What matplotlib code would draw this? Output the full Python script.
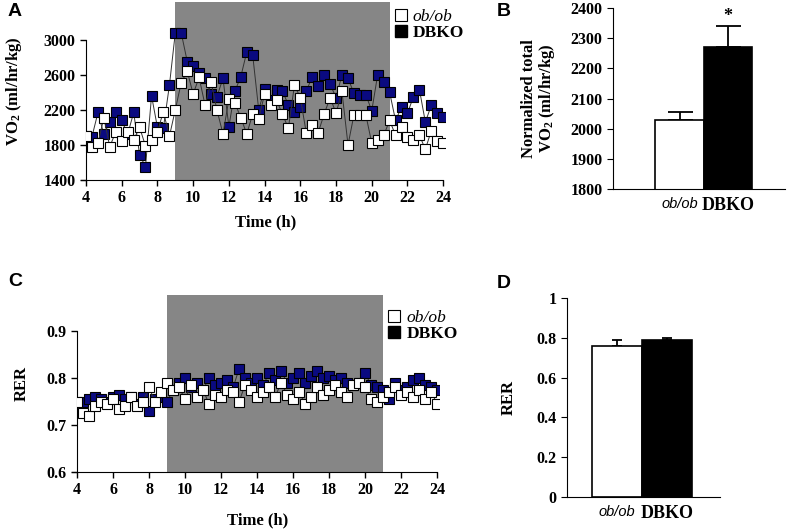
import matplotlib
matplotlib.use("Agg")
import matplotlib.pyplot as plt
from matplotlib.lines import Line2D

plt.rcParams['font.family'] = ['Liberation Serif', 'DejaVu Serif']
plt.rcParams['font.weight'] = 'bold'
plt.rcParams['mathtext.fontset'] = 'custom'
plt.rcParams['mathtext.rm'] = 'Liberation Serif:bold'
plt.rcParams['mathtext.it'] = 'Liberation Serif:bold'
plt.rcParams['mathtext.bf'] = 'Liberation Serif:bold'

# --- data ---
hours = [4.00, 4.33, 4.67, 5.00, 5.33, 5.67, 6.00, 6.33, 6.67, 7.00, 7.33, 7.67,
         8.00, 8.33, 8.67, 9.00, 9.33, 9.67, 10.00, 10.33, 10.67, 11.00, 11.33, 11.67,
         12.00, 12.33, 12.67, 13.00, 13.33, 13.67, 14.00, 14.33, 14.67, 15.00, 15.33, 15.67,
         16.00, 16.33, 16.67, 17.00, 17.33, 17.67, 18.00, 18.33, 18.67, 19.00, 19.33, 19.67,
         20.00, 20.33, 20.67, 21.00, 21.33, 21.67, 22.00, 22.33, 22.67, 23.00, 23.33, 23.67,
         24.00]

vo2_dbko = [1900, 1890, 2170, 1920, 2060, 2170, 2080, 1920, 2170, 1690, 1550, 2360,
            2000, 1990, 2480, 3080, 3080, 2750, 2700, 2620, 2560, 2380, 2350, 2560,
            2010, 2410, 2580, 2860, 2830, 2200, 2440, 2310, 2430, 2410, 2260, 2170,
            2230, 2410, 2580, 2470, 2600, 2490, 2340, 2600, 2560, 2390, 2370, 2370,
            2190, 2600, 2520, 2400, 2080, 2230, 2160, 2350, 2430, 2060, 2250, 2160,
            2120]
vo2_obob = [1900, 1780, 1820, 2110, 1780, 1950, 1840, 1950, 1860, 2000, 1790, 1860,
            1950, 2180, 1900, 2200, 2510, 2640, 2380, 2570, 2250, 2520, 2200, 1925,
            2320, 2280, 2110, 1925, 2150, 2100, 2380, 2260, 2310, 2150, 1990, 2480,
            2340, 1940, 2030, 1940, 2150, 2340, 2160, 2410, 1800, 2140, 2140, 2140,
            1820, 1860, 1910, 2080, 1910, 2000, 1890, 1860, 1910, 1750, 1960, 1840,
            1820]

rer_dbko = [0.745, 0.750, 0.755, 0.760, 0.755, 0.750, 0.760, 0.765, 0.755, 0.760, 0.745, 0.760,
            0.730, 0.755, 0.760, 0.750, 0.775, 0.790, 0.800, 0.780, 0.790, 0.775, 0.800, 0.785,
            0.790, 0.795, 0.780, 0.820, 0.800, 0.790, 0.800, 0.785, 0.810, 0.795, 0.815, 0.790,
            0.800, 0.810, 0.790, 0.805, 0.815, 0.800, 0.805, 0.795, 0.800, 0.790, 0.785, 0.790,
            0.810, 0.785, 0.780, 0.775, 0.755, 0.790, 0.775, 0.780, 0.795, 0.800, 0.785, 0.780,
            0.775]
rer_obob = [0.750, 0.725, 0.720, 0.740, 0.750, 0.745, 0.755, 0.735, 0.740, 0.760, 0.740, 0.750,
            0.780, 0.750, 0.770, 0.790, 0.775, 0.780, 0.755, 0.785, 0.760, 0.775, 0.745, 0.765,
            0.760, 0.775, 0.770, 0.750, 0.785, 0.775, 0.760, 0.770, 0.780, 0.760, 0.790, 0.765,
            0.755, 0.770, 0.745, 0.760, 0.780, 0.765, 0.775, 0.785, 0.770, 0.760, 0.785, 0.790,
            0.780, 0.755, 0.750, 0.760, 0.770, 0.780, 0.765, 0.770, 0.760, 0.775, 0.755, 0.770,
            0.745]

groups = ['ob/ob', 'DBKO']
vo2_total = [2030, 2270]
vo2_total_err = [25, 70]
rer_total = [0.76, 0.79]
rer_total_err = [0.03, 0.008]

dark_start, dark_end = 9, 21
NAVY = '#0a0a80'
GRAY = '#868686'
TICK_FS = 11.5
LABEL_FS = 12

W, H = 796, 529
fig = plt.figure(figsize=(W / 100, H / 100), dpi=100)


def px_axes(left, right, top, bottom):
    return fig.add_axes([left / W, 1 - bottom / H, (right - left) / W, (bottom - top) / H])


def time_panel(ax, dbko, obob, ylim, ybounds, yticks, ylabel, tick_fmt, leg_anchor,
               ypad, xpad):
    ax.axvspan(dark_start, dark_end, color=GRAY, zorder=0, lw=0)
    ax.plot(hours, dbko, '-s', color='#333333', lw=0.7, ms=6.8, mfc=NAVY, mec='black',
            mew=0.8, zorder=2)
    ax.plot(hours, obob, '-s', color='#333333', lw=0.7, ms=6.8, mfc='white', mec='black',
            mew=0.8, zorder=3)
    ax.set_xlim(4, 24.1)
    ax.set_ylim(*ylim)
    ax.spines['left'].set_bounds(*ybounds)
    ax.spines['bottom'].set_bounds(3.7, 24)
    for s in ['top', 'right']:
        ax.spines[s].set_visible(False)
    ax.set_xticks(range(4, 25, 2))
    ax.set_yticks(yticks)
    ax.set_yticklabels([tick_fmt.format(v) for v in yticks])
    ax.tick_params(direction='out', length=4, width=1, labelsize=TICK_FS)
    for lab in ax.get_xticklabels() + ax.get_yticklabels():
        lab.set_fontweight('bold')
    ax.set_xlabel('Time (h)', fontsize=LABEL_FS, fontweight='bold', labelpad=xpad)
    ax.set_ylabel(ylabel, fontsize=LABEL_FS, fontweight='bold', labelpad=ypad)
    handles = [Line2D([], [], ls='none', marker='s', ms=8, mfc='white', mec='black', mew=0.8),
               Line2D([], [], ls='none', marker='s', ms=8, mfc='black', mec='black')]
    leg = ax.legend(handles, groups, loc='upper left', frameon=False, fontsize=12.5,
                    handlelength=0.8, handletextpad=0.3, labelspacing=0.0,
                    borderaxespad=0, borderpad=0, bbox_to_anchor=leg_anchor)
    leg.get_texts()[0].set_fontstyle('italic')
    leg.get_texts()[0].set_fontweight('normal')
    leg.get_texts()[1].set_fontweight('bold')


def bar_panel(ax, vals, errs, ylim, yticks, xlim, capsize, tick_fmt):
    ax.bar([0, 1], vals, width=1.0, color=['white', 'black'], edgecolor='black', lw=1.2,
           zorder=2)
    ax.errorbar([0, 1], vals, yerr=[[0, 0], errs], fmt='none', ecolor='black', elinewidth=1.3,
                capsize=capsize, capthick=1.3, zorder=1)
    ax.set_ylim(*ylim)
    ax.set_xlim(*xlim)
    for s in ['top', 'right']:
        ax.spines[s].set_visible(False)
    ax.set_yticks(yticks)
    ax.set_yticklabels([tick_fmt.format(v) for v in yticks])
    ax.tick_params(axis='y', direction='out', length=4, labelsize=TICK_FS)
    ax.tick_params(axis='x', length=0, pad=6)
    ax.set_xticks([0, 1])
    ax.set_xticklabels(groups)
    labs = ax.get_xticklabels()
    labs[0].set_fontfamily(['Liberation Sans', 'DejaVu Sans'])
    labs[0].set_fontstyle('italic')
    labs[0].set_fontweight('normal')
    labs[0].set_fontsize(10.5)
    labs[1].set_fontweight('bold')
    labs[1].set_fontsize(13)
    for lab in ax.get_yticklabels():
        lab.set_fontweight('bold')


# A
axA = px_axes(86, 445, 2, 180)
time_panel(axA, vo2_dbko, vo2_obob, (1400, 3430), (1400, 3000), [1400, 1800, 2200, 2600, 3000],
           r'VO$_2$ (ml/hr/kg)', '{:d}', (0.857, 0.96), 14, 6)

# C
axC = px_axes(77, 439, 295, 472)
time_panel(axC, rer_dbko, rer_obob, (0.6, 0.977), (0.6, 0.9), [0.6, 0.7, 0.8, 0.9],
           'RER', '{:.1f}', (0.857, 0.915), 12, 10)

# B
axB = px_axes(613, 785, 8, 189)
bar_panel(axB, vo2_total, vo2_total_err, (1800, 2400), list(range(1800, 2401, 100)),
          (-1.37, 2.17), 9, '{:d}')
axB.set_ylabel('Normalized total\n' + r'VO$_2$ (ml/hr/kg)', fontsize=LABEL_FS,
               fontweight='bold', labelpad=10, linespacing=1.0)
axB.text(1, vo2_total[1] + vo2_total_err[1] + 5, '*', ha='center', va='bottom', fontsize=13,
         fontweight='bold')

# D
axD = px_axes(567, 720, 298, 497)
bar_panel(axD, rer_total, rer_total_err, (0, 1), [0, 0.2, 0.4, 0.6, 0.8, 1], (-1.0, 2.06), 3.5,
          '{:g}')
axD.set_ylabel('RER', fontsize=LABEL_FS, fontweight='bold', labelpad=14)

# panel letters
for letter, x, y in [('A', 8, 12), ('B', 497, 12), ('C', 8, 282), ('D', 497, 283)]:
    fig.text(x / W, 1 - y / H, letter, fontsize=14, fontweight='bold',
             family=['Liberation Sans', 'DejaVu Sans'], ha='left', va='center')

fig.savefig('out.png', dpi=100)
